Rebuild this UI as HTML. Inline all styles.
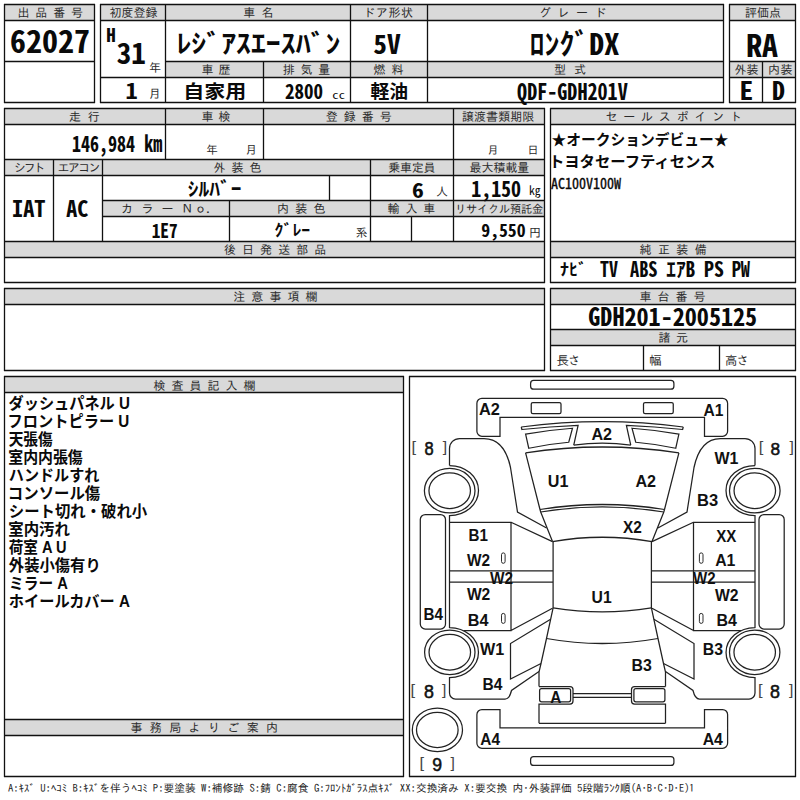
<!DOCTYPE html>
<html lang="ja"><head><meta charset="utf-8"><title>出品票 62027</title>
<style>
html,body{margin:0;padding:0;background:#fff}
body{width:800px;height:800px;overflow:hidden}
svg{display:block}
text{white-space:pre}
.h{font-family:'IPAGothic','Noto Sans CJK JP',monospace;fill:#2b2b2b}
.f{font-family:'IPAGothic','Noto Sans CJK JP',monospace;fill:#222}
</style></head><body>
<svg width="800" height="800" viewBox="0 0 800 800">
<rect width="800" height="800" fill="#fff"/>
<g fill="#d9d9d9" shape-rendering="crispEdges">
<rect x="4.5" y="4.5" width="90" height="16"/>
<rect x="100.5" y="4.5" width="623" height="16"/>
<rect x="165.5" y="61.5" width="558" height="16"/>
<rect x="729.5" y="4.5" width="66" height="16"/>
<rect x="729.5" y="61.5" width="66" height="16"/>
<rect x="4.5" y="108.5" width="540" height="16"/>
<rect x="4.5" y="159.5" width="540" height="16"/>
<rect x="102.5" y="200.5" width="442" height="16"/>
<rect x="4.5" y="241.5" width="540" height="16"/>
<rect x="550.5" y="108.5" width="245" height="16"/>
<rect x="550.5" y="241.5" width="245" height="16"/>
<rect x="4.5" y="288.5" width="540" height="16"/>
<rect x="550.5" y="288.5" width="245" height="16"/>
<rect x="550.5" y="329.5" width="245" height="16"/>
<rect x="4.5" y="376.5" width="399" height="16"/>
<rect x="4.5" y="719.5" width="399" height="16"/>
</g>
<path d="M4 4.5H95M4 102.5H95M4 20.5H95M4 61.5H95M100 4.5H724M100 102.5H724M100 20.5H724M165 61.5H724M100 77.5H724M729 4.5H796M729 102.5H796M729 20.5H796M729 61.5H796M729 77.5H796M4 108.5H545M4 282.5H545M4 124.5H545M4 159.5H545M4 175.5H545M102 200.5H545M102 216.5H545M4 241.5H545M4 257.5H545M550 108.5H796M550 282.5H796M550 124.5H796M550 241.5H796M550 257.5H796M4 288.5H545M4 370.5H545M4 304.5H545M550 288.5H796M550 370.5H796M550 304.5H796M550 329.5H796M550 345.5H796M4 376.5H404M4 776.5H404M4 392.5H404M4 719.5H404M4 735.5H404M409 376.5H796M409 776.5H796M4.5 4V103M94.5 4V103M100.5 4V103M723.5 4V103M165.5 4V103M350.5 4V103M427.5 4V103M263.5 61V103M729.5 4V103M795.5 4V103M762.5 61V103M4.5 108V283M544.5 108V283M165.5 108V160M263.5 108V160M453.5 108V242M53.5 159V242M102.5 159V242M370.5 159V242M329.5 175V201M229.5 200V242M411.5 216V242M550.5 108V283M795.5 108V283M4.5 288V371M544.5 288V371M550.5 288V371M795.5 288V371M643.5 345V371M719.5 345V371M4.5 376V777M403.5 376V777M409.5 376V777M795.5 376V777" stroke="#111" stroke-width="1.3" fill="none"/>
<g fill="none" stroke="#222" stroke-width="1.25" stroke-linejoin="miter"><rect x="530.6" y="380.4" width="143.3" height="8.8" rx="3"/><rect x="530.6" y="756.6" width="143.3" height="8.8" rx="3"/><path d="M481.9 398.25H722.6A5 5 0 0 1 727.6 403.25V431.25A5 5 0 0 1 722.6 436.25H704.5V417.25H500V436.25H481.9A5 5 0 0 1 476.9 431.25V403.25A5 5 0 0 1 481.9 398.25Z"/><path d="M481.9 709.5H500V727.75H704.5V709.5H722.6A5 5 0 0 1 727.6 714.5V743.25A5 5 0 0 1 722.6 748.25H481.9A5 5 0 0 1 476.9 743.25V714.5A5 5 0 0 1 481.9 709.5Z"/><path d="M521.25 427Q602.25 416.3 683.25 427"/><path d="M573.75 445.1Q602.25 441.3 630.75 445.1"/><path d="M525.6 452.9Q602.25 441.1 678.9 452.9"/><path d="M540 509.5Q602.25 499.5 664.5 509.5"/><path d="M540.7 512Q602.25 501.8 663.8 512"/><path d="M552.5 541.6Q602.25 532.9 652 541.6"/><path d="M553.1 607.9Q602.25 616 651.4 607.9"/><path d="M546.5 638.5Q602.25 648.5 658 638.5"/><path d="M573 693.5H631.5 M573 697.25H631.5"/><path d="M539 723.25H665.5"/><rect x="531.25" y="402.5" width="29.75" height="11" rx="1.6"/><path d="M521.25 427L521.9 429.5Q550 426.6 578.1 425.4L573.75 445.1"/><path d="M525.6 434.1Q549 430 572.5 428.25L568.75 442.25Q548.5 444 528.75 448.25Z"/><path d="M525.6 452.9L540 509.5L540.7 512L552.5 541.6"/><path d="M449.5 465.5V448.5A10 10 0 0 1 459.5 438.5H484C496 438.5 506 446 510.5 467.5L517.5 512L546.6 528"/><path d="M449.5 465.5A29 25 0 0 1 449.5 515.5V627.5A29 25 0 0 1 449.5 677.5V693A6 6 0 0 0 455.5 699H505Q509.5 699 511.5 690.5L539 671.5"/><ellipse cx="449.7" cy="490.7" rx="25.3" ry="22.25"/><ellipse cx="449.7" cy="490.7" rx="20.75" ry="17.85"/><ellipse cx="449.8" cy="652.25" rx="25.2" ry="22.25"/><ellipse cx="449.8" cy="652.25" rx="20.75" ry="17.8"/><rect x="420.3" y="514.5" width="25.2" height="114.5" rx="5"/><path d="M449.5 522.25H511V630.5H463.5M511 522.25L552.5 541.6M511 630.5L552.5 608.25"/><path d="M449.5 570.75H553.1M449.5 582H553.1M553.1 541.6V607.9"/><rect x="501.5" y="552.9" width="3.6" height="10.4" rx="1.8" stroke-width="0.95"/><rect x="501.5" y="613.4" width="3.6" height="10" rx="1.8" stroke-width="0.95"/><path d="M553.1 607.9L546.5 638.5L541 663.5L539 672V686.6"/><path d="M550.6 619.3L510.5 643.5V679L541 663.5"/><path d="M539 686.6H570A3 3 0 0 1 573 689.6V701.1A3 3 0 0 1 570 704.1H539V723.25" /><rect x="539.6" y="688.6" width="31" height="13.2" rx="2"/><g transform="translate(1204.5 0) scale(-1 1)"><rect x="531.25" y="402.5" width="29.75" height="11" rx="1.6"/><path d="M521.25 427L521.9 429.5Q550 426.6 578.1 425.4L573.75 445.1"/><path d="M525.6 434.1Q549 430 572.5 428.25L568.75 442.25Q548.5 444 528.75 448.25Z"/><path d="M525.6 452.9L540 509.5L540.7 512L552.5 541.6"/><path d="M449.5 465.5V448.5A10 10 0 0 1 459.5 438.5H484C496 438.5 506 446 510.5 467.5L517.5 512L546.6 528"/><path d="M449.5 465.5A29 25 0 0 1 449.5 515.5V627.5A29 25 0 0 1 449.5 677.5V693A6 6 0 0 0 455.5 699H505Q509.5 699 511.5 690.5L539 671.5"/><ellipse cx="449.7" cy="490.7" rx="25.3" ry="22.25"/><ellipse cx="449.7" cy="490.7" rx="20.75" ry="17.85"/><ellipse cx="449.8" cy="652.25" rx="25.2" ry="22.25"/><ellipse cx="449.8" cy="652.25" rx="20.75" ry="17.8"/><rect x="420.3" y="514.5" width="25.2" height="114.5" rx="5"/><path d="M449.5 522.25H511V630.5H463.5M511 522.25L552.5 541.6M511 630.5L552.5 608.25"/><path d="M449.5 570.75H553.1M449.5 582H553.1M553.1 541.6V607.9"/><rect x="501.5" y="552.9" width="3.6" height="10.4" rx="1.8" stroke-width="0.95"/><rect x="501.5" y="613.4" width="3.6" height="10" rx="1.8" stroke-width="0.95"/><path d="M553.1 607.9L546.5 638.5L541 663.5L539 672V686.6"/><path d="M550.6 619.3L510.5 643.5V679L541 663.5"/><path d="M539 686.6H570A3 3 0 0 1 573 689.6V701.1A3 3 0 0 1 570 704.1H539V723.25" /><rect x="539.6" y="688.6" width="31" height="13.2" rx="2"/></g><ellipse cx="437.4" cy="729.9" rx="25.1" ry="21.7"/><ellipse cx="437.3" cy="729.9" rx="20.8" ry="17.6"/></g>
<g>
<text class="h" x="17.40 35.30 53.20 71.10" y="17.24" font-size="12.00">出品番号</text>
<text class="h" x="109.40 121.47 133.53 145.60" y="17.24" font-size="12.00">初度登録</text>
<text class="h" x="243.25 261.50" y="17.24" font-size="12.00">車名</text>
<text class="h" x="363.15 375.80 388.45 401.10" y="17.24" font-size="12.00">ドア形状</text>
<text class="h" x="539.00 557.50 576.00 594.50" y="17.24" font-size="12.00">グレード</text>
<text class="h" x="744.90 757.00 769.10" y="17.24" font-size="12.00">評価点</text>
<text class="h" x="201.50 218.50" y="74.04" font-size="12.00">車歴</text>
<text class="h" x="282.75 300.50 318.25" y="74.04" font-size="12.00">排気量</text>
<text class="h" x="373.50 391.50" y="74.04" font-size="12.00">燃料</text>
<text class="h" x="554.00 574.00" y="74.04" font-size="12.00">型式</text>
<text class="h" x="734.40 746.60" y="74.04" font-size="12.00">外装</text>
<text class="h" x="767.90 780.60" y="74.04" font-size="12.00">内装</text>
<text class="h" x="69.00 87.75" y="121.24" font-size="12.00">走行</text>
<text class="h" x="201.50 218.50" y="121.24" font-size="12.00">車検</text>
<text class="h" x="325.75 343.75 361.75 379.75" y="121.24" font-size="12.00">登録番号</text>
<text class="h" x="461.90 473.99 486.08 498.17 510.26 522.35" y="121.24" font-size="12.00">譲渡書類期限</text>
<text class="h" x="605.40 623.21 641.03 658.84 676.66 694.47 712.29 730.10" y="121.24" font-size="12.00">セールスポイント</text>
<text class="h" x="13.90 23.75 33.60" y="172.14" font-size="12.00">シフト</text>
<text class="h" x="57.40 67.80 78.20 88.60" y="172.14" font-size="12.00">エアコン</text>
<text class="h" x="213.50 231.50 249.50" y="172.14" font-size="12.00">外装色</text>
<text class="h" x="388.15 399.97 411.78 423.60" y="172.14" font-size="12.00">乗車定員</text>
<text class="h" x="469.40 481.39 493.38 505.36 517.35" y="172.14" font-size="12.00">最大積載量</text>
<text class="h" x="121.00 141.50 161.50 181.30 194.50" y="213.24" font-size="12.00">カラーＮｏ</text>
<text class="h" x="206.00" y="213.24" font-size="12.00">.</text>
<text class="h" x="277.00 295.25 313.50" y="213.24" font-size="12.00">内装色</text>
<text class="h" x="387.60 405.60 423.20" y="213.24" font-size="12.00">輸入車</text>
<text class="h" x="454.90 465.90 476.90 487.90 498.90 509.90 520.90 531.90" y="212.94" font-size="11.20">リサイクル預託金</text>
<text class="h" x="223.90 241.99 260.08 278.17 296.26 314.35" y="254.24" font-size="12.00">後日発送部品</text>
<text class="h" x="639.40 657.88 676.37 694.85" y="254.24" font-size="12.00">純正装備</text>
<text class="h" x="233.15 251.26 269.38 287.49 305.60" y="301.24" font-size="12.00">注意事項欄</text>
<text class="h" x="639.40 657.47 675.53 693.60" y="301.24" font-size="12.00">車台番号</text>
<text class="h" x="658.40 676.10" y="341.64" font-size="12.00">諸元</text>
<text class="h" x="556.40 567.90" y="365.19" font-size="12.40">長さ</text>
<text class="h" x="649.30" y="365.19" font-size="12.40">幅</text>
<text class="h" x="725.00 736.60" y="365.19" font-size="12.40">高さ</text>
<text class="h" x="153.40 171.44 189.48 207.52 225.56 243.60" y="389.64" font-size="12.00">検査員記入欄</text>
<text class="h" x="130.40 149.79 169.17 188.56 207.94 227.33 246.71 266.10" y="732.44" font-size="12.00">事務局よりご案内</text>
<text class="h" x="149.00" y="72.24" font-size="12.00">年</text>
<text class="h" x="148.65" y="98.24" font-size="12.00">月</text>
<text class="h" x="206.25 245.55" y="153.66" font-size="11.50">年月</text>
<text class="h" x="487.50 527.50" y="154.07" font-size="11.00">月日</text>
<text class="h" x="436.00" y="196.34" font-size="12.00">人</text>
<text class="h" x="529.00" y="237.04" font-size="12.00">円</text>
<text class="h" x="355.50" y="236.94" font-size="12.00">系</text>
<text x="9.97" y="53.00" font-family="'Noto Sans Mono CJK JP','Liberation Mono','Noto Sans CJK JP',monospace" font-weight="bold" font-size="31.08" fill="#0a0a0a" textLength="80.06" lengthAdjust="spacingAndGlyphs">62027</text>
<text x="106.24" y="42.00" font-family="'Noto Sans Mono CJK JP','Liberation Mono','Noto Sans CJK JP',monospace" font-weight="bold" font-size="18.92" fill="#0a0a0a" textLength="9.52" lengthAdjust="spacingAndGlyphs">H</text>
<text x="116.71" y="63.75" font-family="'Noto Sans Mono CJK JP','Liberation Mono','Noto Sans CJK JP',monospace" font-weight="bold" font-size="28.72" fill="#0a0a0a" textLength="29.17" lengthAdjust="spacingAndGlyphs">31</text>
<text x="125.52" y="98.75" font-family="'Noto Sans Mono CJK JP','Liberation Mono','Noto Sans CJK JP',monospace" font-weight="bold" font-size="21.28" fill="#0a0a0a" textLength="12.21" lengthAdjust="spacingAndGlyphs">1</text>
<text x="176.41" y="53.40" font-family="'Noto Sans Mono CJK JP','Liberation Mono','Noto Sans CJK JP',monospace" font-weight="bold" font-size="25.70" fill="#0a0a0a" textLength="163.98" lengthAdjust="spacingAndGlyphs">ﾚｼﾞｱｽｴｰｽﾊﾞﾝ</text>
<text x="373.35" y="54.00" font-family="'Noto Sans Mono CJK JP','Liberation Mono','Noto Sans CJK JP',monospace" font-weight="bold" font-size="26.62" fill="#0a0a0a" textLength="27.42" lengthAdjust="spacingAndGlyphs">5V</text>
<text x="529.45" y="54.90" font-family="'Noto Sans Mono CJK JP','Liberation Mono','Noto Sans CJK JP',monospace" font-weight="bold" font-size="29.05" fill="#0a0a0a" textLength="89.85" lengthAdjust="spacingAndGlyphs">ﾛﾝｸﾞDX</text>
<text x="746.23" y="57.00" font-family="'Noto Sans Mono CJK JP','Liberation Mono','Noto Sans CJK JP',monospace" font-weight="bold" font-size="31.42" fill="#0a0a0a" textLength="31.77" lengthAdjust="spacingAndGlyphs">RA</text>
<text x="183.26" y="98.16" font-family="'Liberation Sans','Noto Sans CJK JP',sans-serif" font-weight="bold" font-size="18.56" fill="#0a0a0a" textLength="62.92" lengthAdjust="spacingAndGlyphs">自家用</text>
<text x="285.12" y="99.30" font-family="'Noto Sans Mono CJK JP','Liberation Mono','Noto Sans CJK JP',monospace" font-weight="bold" font-size="20.68" fill="#0a0a0a" textLength="37.95" lengthAdjust="spacingAndGlyphs">2800</text>
<text x="332.37" y="99.30" font-family="'Noto Sans Mono CJK JP','Liberation Mono','Noto Sans CJK JP',monospace" font-weight="normal" font-size="10.93" fill="#0a0a0a" textLength="12.64" lengthAdjust="spacingAndGlyphs">cc</text>
<text x="370.43" y="97.97" font-family="'Liberation Sans','Noto Sans CJK JP',sans-serif" font-weight="bold" font-size="18.33" fill="#0a0a0a" textLength="37.70" lengthAdjust="spacingAndGlyphs">軽油</text>
<text x="517.10" y="99.50" font-family="'Noto Sans Mono CJK JP','Liberation Mono','Noto Sans CJK JP',monospace" font-weight="bold" font-size="22.97" fill="#0a0a0a" textLength="110.60" lengthAdjust="spacingAndGlyphs">QDF-GDH201V</text>
<text x="739.60" y="99.50" font-family="'Noto Sans Mono CJK JP','Liberation Mono','Noto Sans CJK JP',monospace" font-weight="bold" font-size="24.66" fill="#0a0a0a" textLength="13.78" lengthAdjust="spacingAndGlyphs">E</text>
<text x="771.95" y="99.50" font-family="'Noto Sans Mono CJK JP','Liberation Mono','Noto Sans CJK JP',monospace" font-weight="bold" font-size="24.66" fill="#0a0a0a" textLength="13.08" lengthAdjust="spacingAndGlyphs">D</text>
<text x="71.98" y="152.00" font-family="'Noto Sans Mono CJK JP','Liberation Mono','Noto Sans CJK JP',monospace" font-weight="bold" font-size="22.43" fill="#0a0a0a" textLength="90.20" lengthAdjust="spacingAndGlyphs">146,984 km</text>
<text x="12.09" y="217.00" font-family="'Noto Sans Mono CJK JP','Liberation Mono','Noto Sans CJK JP',monospace" font-weight="bold" font-size="22.97" fill="#0a0a0a" textLength="33.36" lengthAdjust="spacingAndGlyphs">IAT</text>
<text x="66.25" y="217.00" font-family="'Noto Sans Mono CJK JP','Liberation Mono','Noto Sans CJK JP',monospace" font-weight="bold" font-size="22.97" fill="#0a0a0a" textLength="21.97" lengthAdjust="spacingAndGlyphs">AC</text>
<text x="187.76" y="196.45" font-family="'Noto Sans Mono CJK JP','Liberation Mono','Noto Sans CJK JP',monospace" font-weight="bold" font-size="18.90" fill="#0a0a0a" textLength="53.70" lengthAdjust="spacingAndGlyphs">ｼﾙﾊﾞｰ</text>
<text x="412.05" y="197.50" font-family="'Noto Sans Mono CJK JP','Liberation Mono','Noto Sans CJK JP',monospace" font-weight="bold" font-size="20.27" fill="#0a0a0a" textLength="11.90" lengthAdjust="spacingAndGlyphs">6</text>
<text x="471.20" y="197.00" font-family="'Noto Sans Mono CJK JP','Liberation Mono','Noto Sans CJK JP',monospace" font-weight="bold" font-size="21.62" fill="#0a0a0a" textLength="49.90" lengthAdjust="spacingAndGlyphs">1,150</text>
<text x="528.98" y="194.52" font-family="'Noto Sans Mono CJK JP','Liberation Mono','Noto Sans CJK JP',monospace" font-weight="normal" font-size="11.98" fill="#0a0a0a" textLength="11.76" lengthAdjust="spacingAndGlyphs">kg</text>
<text x="151.71" y="238.00" font-family="'Noto Sans Mono CJK JP','Liberation Mono','Noto Sans CJK JP',monospace" font-weight="bold" font-size="19.46" fill="#0a0a0a" textLength="25.99" lengthAdjust="spacingAndGlyphs">1E7</text>
<text x="274.57" y="236.32" font-family="'Noto Sans Mono CJK JP','Liberation Mono','Noto Sans CJK JP',monospace" font-weight="bold" font-size="15.48" fill="#0a0a0a" textLength="35.65" lengthAdjust="spacingAndGlyphs">ｸﾞﾚｰ</text>
<text x="481.29" y="237.00" font-family="'Noto Sans Mono CJK JP','Liberation Mono','Noto Sans CJK JP',monospace" font-weight="bold" font-size="16.89" fill="#0a0a0a" textLength="44.24" lengthAdjust="spacingAndGlyphs">9,550</text>
<text x="560.06" y="275.42" font-family="'Noto Sans Mono CJK JP','Liberation Mono','Noto Sans CJK JP',monospace" font-weight="bold" font-size="15.38" fill="#0a0a0a" textLength="26.90" lengthAdjust="spacingAndGlyphs">ﾅﾋﾞ</text>
<text x="600.04" y="277.40" font-family="'Noto Sans Mono CJK JP','Liberation Mono','Noto Sans CJK JP',monospace" font-weight="bold" font-size="20.54" fill="#0a0a0a" textLength="17.84" lengthAdjust="spacingAndGlyphs">TV</text>
<text x="630.00" y="277.40" font-family="'Noto Sans Mono CJK JP','Liberation Mono','Noto Sans CJK JP',monospace" font-weight="bold" font-size="20.54" fill="#0a0a0a" textLength="27.55" lengthAdjust="spacingAndGlyphs">ABS</text>
<text x="666.22" y="277.40" font-family="'Noto Sans Mono CJK JP','Liberation Mono','Noto Sans CJK JP',monospace" font-weight="bold" font-size="20.54" fill="#0a0a0a" textLength="29.07" lengthAdjust="spacingAndGlyphs">ｴｱB</text>
<text x="704.11" y="277.40" font-family="'Noto Sans Mono CJK JP','Liberation Mono','Noto Sans CJK JP',monospace" font-weight="bold" font-size="20.54" fill="#0a0a0a" textLength="19.68" lengthAdjust="spacingAndGlyphs">PS</text>
<text x="731.67" y="277.40" font-family="'Noto Sans Mono CJK JP','Liberation Mono','Noto Sans CJK JP',monospace" font-weight="bold" font-size="20.54" fill="#0a0a0a" textLength="18.33" lengthAdjust="spacingAndGlyphs">PW</text>
<text x="588.28" y="326.00" font-family="'Noto Sans Mono CJK JP','Liberation Mono','Noto Sans CJK JP',monospace" font-weight="bold" font-size="25.00" fill="#0a0a0a" textLength="168.93" lengthAdjust="spacingAndGlyphs">GDH201-2005125</text>
<text x="550.92" y="188.50" font-family="'Noto Sans Mono CJK JP','Liberation Mono','Noto Sans CJK JP',monospace" font-weight="normal" font-size="15.14" fill="#0a0a0a" stroke="#0a0a0a" stroke-width="0.35" textLength="70.08" lengthAdjust="spacingAndGlyphs">AC100V100W</text>
<text x="551.46" y="145.40" font-family="'Liberation Sans','Noto Sans CJK JP',sans-serif" font-weight="bold" font-size="15.30" fill="#0a0a0a" textLength="176.98" lengthAdjust="spacingAndGlyphs">★オークションデビュー★</text>
<text x="548.96" y="166.60" font-family="'Liberation Sans','Noto Sans CJK JP',sans-serif" font-weight="bold" font-size="15.30" fill="#0a0a0a" textLength="166.40" lengthAdjust="spacingAndGlyphs">トヨタセーフティセンス</text>
<text x="8.54" y="408.60" font-family="'Liberation Sans','Noto Sans CJK JP',sans-serif" font-weight="bold" font-size="15.80" fill="#0a0a0a" textLength="121.45" lengthAdjust="spacingAndGlyphs">ダッシュパネル U</text>
<text x="7.62" y="426.60" font-family="'Liberation Sans','Noto Sans CJK JP',sans-serif" font-weight="bold" font-size="15.80" fill="#0a0a0a" textLength="121.77" lengthAdjust="spacingAndGlyphs">フロントピラー U</text>
<text x="8.71" y="444.60" font-family="'Liberation Sans','Noto Sans CJK JP',sans-serif" font-weight="bold" font-size="15.80" fill="#0a0a0a" textLength="43.99" lengthAdjust="spacingAndGlyphs">天張傷</text>
<text x="8.25" y="462.60" font-family="'Liberation Sans','Noto Sans CJK JP',sans-serif" font-weight="bold" font-size="15.80" fill="#0a0a0a" textLength="74.54" lengthAdjust="spacingAndGlyphs">室内内張傷</text>
<text x="8.85" y="480.60" font-family="'Liberation Sans','Noto Sans CJK JP',sans-serif" font-weight="bold" font-size="15.80" fill="#0a0a0a" textLength="90.46" lengthAdjust="spacingAndGlyphs">ハンドルすれ</text>
<text x="7.84" y="498.60" font-family="'Liberation Sans','Noto Sans CJK JP',sans-serif" font-weight="bold" font-size="15.80" fill="#0a0a0a" textLength="92.47" lengthAdjust="spacingAndGlyphs">コンソール傷</text>
<text x="8.77" y="516.60" font-family="'Liberation Sans','Noto Sans CJK JP',sans-serif" font-weight="bold" font-size="15.80" fill="#0a0a0a" textLength="138.38" lengthAdjust="spacingAndGlyphs">シート切れ・破れ小</text>
<text x="8.23" y="534.60" font-family="'Liberation Sans','Noto Sans CJK JP',sans-serif" font-weight="bold" font-size="15.80" fill="#0a0a0a" textLength="61.68" lengthAdjust="spacingAndGlyphs">室内汚れ</text>
<text x="8.71" y="552.60" font-family="'Liberation Sans','Noto Sans CJK JP',sans-serif" font-weight="bold" font-size="15.80" fill="#0a0a0a" textLength="57.84" lengthAdjust="spacingAndGlyphs">荷室 A U</text>
<text x="8.85" y="570.60" font-family="'Liberation Sans','Noto Sans CJK JP',sans-serif" font-weight="bold" font-size="15.80" fill="#0a0a0a" textLength="91.91" lengthAdjust="spacingAndGlyphs">外装小傷有り</text>
<text x="9.09" y="588.60" font-family="'Liberation Sans','Noto Sans CJK JP',sans-serif" font-weight="bold" font-size="15.80" fill="#0a0a0a" textLength="58.84" lengthAdjust="spacingAndGlyphs">ミラー A</text>
<text x="8.84" y="606.60" font-family="'Liberation Sans','Noto Sans CJK JP',sans-serif" font-weight="bold" font-size="15.80" fill="#0a0a0a" textLength="121.09" lengthAdjust="spacingAndGlyphs">ホイールカバー A</text>
<text x="479.07" y="415.40" font-family="'Liberation Sans','Noto Sans CJK JP',sans-serif" font-weight="bold" font-size="16.64" fill="#111" textLength="20.92" lengthAdjust="spacingAndGlyphs">A2</text>
<text x="703.44" y="415.50" font-family="'Liberation Sans','Noto Sans CJK JP',sans-serif" font-weight="bold" font-size="16.79" fill="#111" textLength="19.97" lengthAdjust="spacingAndGlyphs">A1</text>
<text x="591.38" y="439.70" font-family="'Liberation Sans','Noto Sans CJK JP',sans-serif" font-weight="bold" font-size="16.43" fill="#111" textLength="20.61" lengthAdjust="spacingAndGlyphs">A2</text>
<text x="714.50" y="463.75" font-family="'Liberation Sans','Noto Sans CJK JP',sans-serif" font-weight="bold" font-size="16.79" fill="#111" textLength="23.92" lengthAdjust="spacingAndGlyphs">W1</text>
<text x="547.78" y="486.75" font-family="'Liberation Sans','Noto Sans CJK JP',sans-serif" font-weight="bold" font-size="16.79" fill="#111" textLength="20.64" lengthAdjust="spacingAndGlyphs">U1</text>
<text x="635.43" y="486.75" font-family="'Liberation Sans','Noto Sans CJK JP',sans-serif" font-weight="bold" font-size="16.79" fill="#111" textLength="20.66" lengthAdjust="spacingAndGlyphs">A2</text>
<text x="697.01" y="505.50" font-family="'Liberation Sans','Noto Sans CJK JP',sans-serif" font-weight="bold" font-size="16.79" fill="#111" textLength="21.09" lengthAdjust="spacingAndGlyphs">B3</text>
<text x="623.00" y="532.50" font-family="'Liberation Sans','Noto Sans CJK JP',sans-serif" font-weight="bold" font-size="16.79" fill="#111" textLength="18.81" lengthAdjust="spacingAndGlyphs">X2</text>
<text x="468.49" y="541.25" font-family="'Liberation Sans','Noto Sans CJK JP',sans-serif" font-weight="bold" font-size="16.43" fill="#111" textLength="19.41" lengthAdjust="spacingAndGlyphs">B1</text>
<text x="716.25" y="542.00" font-family="'Liberation Sans','Noto Sans CJK JP',sans-serif" font-weight="bold" font-size="17.14" fill="#111" textLength="20.11" lengthAdjust="spacingAndGlyphs">XX</text>
<text x="466.90" y="566.25" font-family="'Liberation Sans','Noto Sans CJK JP',sans-serif" font-weight="bold" font-size="17.36" fill="#111" textLength="23.06" lengthAdjust="spacingAndGlyphs">W2</text>
<text x="715.18" y="566.25" font-family="'Liberation Sans','Noto Sans CJK JP',sans-serif" font-weight="bold" font-size="16.79" fill="#111" textLength="20.23" lengthAdjust="spacingAndGlyphs">A1</text>
<text x="490.00" y="583.75" font-family="'Liberation Sans','Noto Sans CJK JP',sans-serif" font-weight="bold" font-size="16.79" fill="#111" textLength="23.06" lengthAdjust="spacingAndGlyphs">W2</text>
<text x="693.00" y="583.75" font-family="'Liberation Sans','Noto Sans CJK JP',sans-serif" font-weight="bold" font-size="16.79" fill="#111" textLength="22.54" lengthAdjust="spacingAndGlyphs">W2</text>
<text x="466.90" y="600.40" font-family="'Liberation Sans','Noto Sans CJK JP',sans-serif" font-weight="bold" font-size="17.00" fill="#111" textLength="23.41" lengthAdjust="spacingAndGlyphs">W2</text>
<text x="715.00" y="600.50" font-family="'Liberation Sans','Noto Sans CJK JP',sans-serif" font-weight="bold" font-size="16.79" fill="#111" textLength="23.57" lengthAdjust="spacingAndGlyphs">W2</text>
<text x="591.56" y="602.50" font-family="'Liberation Sans','Noto Sans CJK JP',sans-serif" font-weight="bold" font-size="17.29" fill="#111" textLength="20.10" lengthAdjust="spacingAndGlyphs">U1</text>
<text x="423.49" y="619.50" font-family="'Liberation Sans','Noto Sans CJK JP',sans-serif" font-weight="bold" font-size="16.57" fill="#111" textLength="19.45" lengthAdjust="spacingAndGlyphs">B4</text>
<text x="467.78" y="626.25" font-family="'Liberation Sans','Noto Sans CJK JP',sans-serif" font-weight="bold" font-size="16.79" fill="#111" textLength="20.66" lengthAdjust="spacingAndGlyphs">B4</text>
<text x="716.54" y="626.25" font-family="'Liberation Sans','Noto Sans CJK JP',sans-serif" font-weight="bold" font-size="16.79" fill="#111" textLength="20.40" lengthAdjust="spacingAndGlyphs">B4</text>
<text x="480.00" y="654.50" font-family="'Liberation Sans','Noto Sans CJK JP',sans-serif" font-weight="bold" font-size="16.57" fill="#111" textLength="24.17" lengthAdjust="spacingAndGlyphs">W1</text>
<text x="702.80" y="654.50" font-family="'Liberation Sans','Noto Sans CJK JP',sans-serif" font-weight="bold" font-size="17.14" fill="#111" textLength="20.28" lengthAdjust="spacingAndGlyphs">B3</text>
<text x="631.55" y="671.25" font-family="'Liberation Sans','Noto Sans CJK JP',sans-serif" font-weight="bold" font-size="17.14" fill="#111" textLength="20.28" lengthAdjust="spacingAndGlyphs">B3</text>
<text x="482.57" y="690.40" font-family="'Liberation Sans','Noto Sans CJK JP',sans-serif" font-weight="bold" font-size="17.00" fill="#111" textLength="19.87" lengthAdjust="spacingAndGlyphs">B4</text>
<text x="550.29" y="702.50" font-family="'Liberation Sans','Noto Sans CJK JP',sans-serif" font-weight="bold" font-size="17.29" fill="#111" textLength="11.04" lengthAdjust="spacingAndGlyphs">A</text>
<text x="480.29" y="744.75" font-family="'Liberation Sans','Noto Sans CJK JP',sans-serif" font-weight="bold" font-size="16.93" fill="#111" textLength="19.65" lengthAdjust="spacingAndGlyphs">A4</text>
<text x="702.68" y="744.50" font-family="'Liberation Sans','Noto Sans CJK JP',sans-serif" font-weight="bold" font-size="17.14" fill="#111" textLength="20.26" lengthAdjust="spacingAndGlyphs">A4</text>
<text x="424.54" y="454.72" font-family="'Liberation Sans','Noto Sans CJK JP',sans-serif" font-weight="normal" font-size="17.89" fill="#111" stroke="#111" stroke-width="0.55" textLength="9.15" lengthAdjust="spacingAndGlyphs">8</text>
<text x="411.54" y="451.87" font-family="'Liberation Sans','Noto Sans CJK JP',sans-serif" font-weight="normal" font-size="14.89" fill="#444" textLength="4.58" lengthAdjust="spacingAndGlyphs">[</text>
<text x="442.65" y="451.87" font-family="'Liberation Sans','Noto Sans CJK JP',sans-serif" font-weight="normal" font-size="14.89" fill="#444" textLength="4.37" lengthAdjust="spacingAndGlyphs">]</text>
<text x="770.41" y="454.53" font-family="'Liberation Sans','Noto Sans CJK JP',sans-serif" font-weight="normal" font-size="17.32" fill="#111" stroke="#111" stroke-width="0.55" textLength="9.62" lengthAdjust="spacingAndGlyphs">8</text>
<text x="758.75" y="451.76" font-family="'Liberation Sans','Noto Sans CJK JP',sans-serif" font-weight="normal" font-size="14.47" fill="#444" textLength="4.58" lengthAdjust="spacingAndGlyphs">[</text>
<text x="789.60" y="451.76" font-family="'Liberation Sans','Noto Sans CJK JP',sans-serif" font-weight="normal" font-size="14.47" fill="#444" textLength="4.37" lengthAdjust="spacingAndGlyphs">]</text>
<text x="424.04" y="698.12" font-family="'Liberation Sans','Noto Sans CJK JP',sans-serif" font-weight="normal" font-size="18.03" fill="#111" stroke="#111" stroke-width="0.55" textLength="9.91" lengthAdjust="spacingAndGlyphs">8</text>
<text x="410.64" y="695.25" font-family="'Liberation Sans','Noto Sans CJK JP',sans-serif" font-weight="normal" font-size="15.00" fill="#444" textLength="4.58" lengthAdjust="spacingAndGlyphs">[</text>
<text x="442.00" y="695.25" font-family="'Liberation Sans','Noto Sans CJK JP',sans-serif" font-weight="normal" font-size="15.00" fill="#444" textLength="4.37" lengthAdjust="spacingAndGlyphs">]</text>
<text x="770.08" y="698.32" font-family="'Liberation Sans','Noto Sans CJK JP',sans-serif" font-weight="normal" font-size="18.38" fill="#111" stroke="#111" stroke-width="0.55" textLength="9.96" lengthAdjust="spacingAndGlyphs">8</text>
<text x="757.95" y="695.39" font-family="'Liberation Sans','Noto Sans CJK JP',sans-serif" font-weight="normal" font-size="15.27" fill="#444" textLength="4.58" lengthAdjust="spacingAndGlyphs">[</text>
<text x="789.10" y="695.39" font-family="'Liberation Sans','Noto Sans CJK JP',sans-serif" font-weight="normal" font-size="15.27" fill="#444" textLength="4.37" lengthAdjust="spacingAndGlyphs">]</text>
<text x="432.29" y="771.32" font-family="'Liberation Sans','Noto Sans CJK JP',sans-serif" font-weight="normal" font-size="18.17" fill="#111" stroke="#111" stroke-width="0.55" textLength="9.82" lengthAdjust="spacingAndGlyphs">9</text>
<text x="419.44" y="768.43" font-family="'Liberation Sans','Noto Sans CJK JP',sans-serif" font-weight="normal" font-size="15.11" fill="#444" textLength="4.58" lengthAdjust="spacingAndGlyphs">[</text>
<text x="450.60" y="768.43" font-family="'Liberation Sans','Noto Sans CJK JP',sans-serif" font-weight="normal" font-size="15.11" fill="#444" textLength="4.37" lengthAdjust="spacingAndGlyphs">]</text>
<text class="f" y="792.2" font-size="10.74" xml:space="preserve"><tspan x="8.0">A:ｷｽﾞ </tspan><tspan x="40.2">U:ﾍｺﾐ </tspan><tspan x="72.5">B:ｷｽﾞを伴うﾍｺﾐ </tspan><tspan x="152.8">P:要塗装 </tspan><tspan x="201.1">W:補修跡 </tspan><tspan x="249.5">S:錆 </tspan><tspan x="276.3">C:腐食 </tspan><tspan x="313.9">G:ﾌﾛﾝﾄｶﾞﾗｽ点ｷｽﾞ </tspan><tspan x="399.8">XX:交換済み </tspan><tspan x="464.3">X:要交換 </tspan><tspan x="512.6">内･外装評価 </tspan><tspan x="577.0">5段階ﾗﾝｸ順(A･B･C･D･E) </tspan><tspan x="688.9">1</tspan></text>
</g>
</svg>
</body></html>
